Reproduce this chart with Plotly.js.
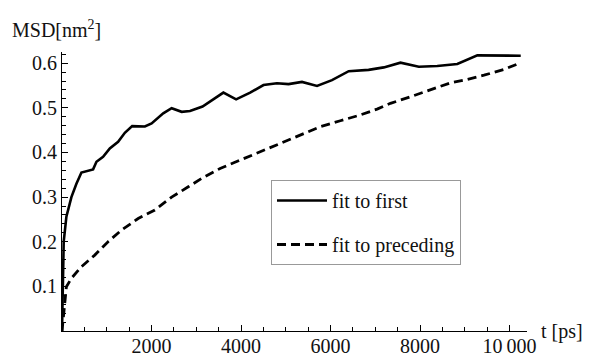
<!DOCTYPE html>
<html>
<head>
<meta charset="utf-8">
<script src="https://cdn.plot.ly/plotly-3.0.1.min.js"></script>
<style>html,body{margin:0;padding:0;background:#fff}#chart{width:590px;height:356px}</style>
</head>
<body>
<div id="chart"></div>
<script>
// fit to first (solid)
const tFirst = [0, 38, 98, 210, 322, 434, 695, 770, 918, 1068, 1254, 1404, 1568, 1852, 2002, 2262, 2450, 2674, 2860, 3140, 3606, 3890, 4204, 4502, 4802, 5062, 5362, 5698, 6033, 6406, 6850, 7190, 7563, 7973, 8385, 8833, 9281, 9729, 10250];
const msdFirst = [0, 0.20, 0.256, 0.30, 0.33, 0.355, 0.362, 0.379, 0.39, 0.409, 0.424, 0.444, 0.459, 0.458, 0.465, 0.4875, 0.499, 0.491, 0.493, 0.503, 0.534, 0.519, 0.534, 0.551, 0.555, 0.553, 0.558, 0.549, 0.562, 0.582, 0.585, 0.5905, 0.601, 0.592, 0.5935, 0.598, 0.6175, 0.6175, 0.6166];
// fit to preceding (dashed)
const tPrec = [0, 45, 98, 210, 434, 732, 1030, 1330, 1702, 2076, 2450, 2822, 3140, 3532, 3980, 4428, 4876, 5324, 5771, 6219, 6667, 7040, 7339, 7787, 8235, 8683, 9057, 9429, 9877, 10177];
const msdPrec = [0, 0.054, 0.099, 0.118, 0.144, 0.170, 0.200, 0.226, 0.252, 0.271, 0.300, 0.323, 0.343, 0.364, 0.383, 0.4016, 0.420, 0.439, 0.4576, 0.471, 0.484, 0.497, 0.510, 0.5248, 0.540, 0.556, 0.5637, 0.573, 0.586, 0.598];

const seriesNames = ['fit to first', 'fit to preceding'];
const xTickVals = [2000, 4000, 6000, 8000, 10000];
const xTickText = ['2000', '4000', '6000', '8000', '10\u2009000'];
const yTickVals = [0.1, 0.2, 0.3, 0.4, 0.5, 0.6];
const yTickText = ['0.1', '0.2', '0.3', '0.4', '0.5', '0.6'];
const xLabel = 't [ps]';
const yLabel = 'MSD[nm<sup>2</sup>]';

const FONT = '"Liberation Serif", "Times New Roman", serif';

const traces = [
  {x: tFirst, y: msdFirst, name: seriesNames[0], mode: 'lines', legendgroup: 'a',
   line: {color: '#000', width: 2.6}},
  {x: tPrec, y: msdPrec, name: seriesNames[1], mode: 'lines', legendgroup: 'b',
   line: {color: '#000', width: 2.8, dash: '9px,5px'}}
];

const axisCommon = {
  showgrid: false, zeroline: false, showline: true, linecolor: '#000', linewidth: 1,
  ticks: 'inside', ticklen: 6, tickcolor: '#000', tickwidth: 1,
  tickfont: {family: FONT, size: 20, color: '#111'}, tickmode: 'array'
};

const layout = {
  width: 590, height: 356,
  margin: {l: 62, r: 63, t: 52, b: 25},
  paper_bgcolor: '#fff', plot_bgcolor: '#fff',
  showlegend: true,
  font: {family: FONT, size: 19, color: '#111'},
  xaxis: Object.assign({}, axisCommon, {
    range: [0, 10390], tickvals: xTickVals, ticktext: xTickText, ticklabelstandoff: -3,
    minor: {tickmode: 'linear', tick0: 0, dtick: 500, ticks: 'inside', ticklen: 4, tickcolor: '#000', tickwidth: 1}
  }),
  yaxis: Object.assign({}, axisCommon, {
    range: [0, 0.625], tickvals: yTickVals, ticktext: yTickText,
    minor: {tickmode: 'linear', tick0: 0, dtick: 0.02, ticks: 'inside', ticklen: 4, tickcolor: '#000', tickwidth: 1}
  }),
  legend: {
    x: (271 - 62) / 465, y: 1 - (180 - 52) / 279, xanchor: 'left', yanchor: 'top',
    bgcolor: '#fff', bordercolor: '#999', borderwidth: 1,
    font: {family: FONT, size: 20, color: '#111'},
    tracegroupgap: 15, itemwidth: 50, entrywidth: 163, entrywidthmode: 'pixels'
  },
  annotations: [
    {xref: 'paper', yref: 'paper', x: 1, y: 0, xshift: 12, xanchor: 'left', yanchor: 'middle',
     text: xLabel, showarrow: false, font: {family: FONT, size: 20, color: '#111'}},
    {xref: 'paper', yref: 'paper', x: 0, y: 1, xshift: -52, yshift: 23, xanchor: 'left', yanchor: 'middle',
     text: yLabel, showarrow: false, font: {family: FONT, size: 20, color: '#111'}}
  ]
};

Plotly.newPlot('chart', traces, layout, {displayModeBar: false, staticPlot: true});
</script>
</body>
</html>
